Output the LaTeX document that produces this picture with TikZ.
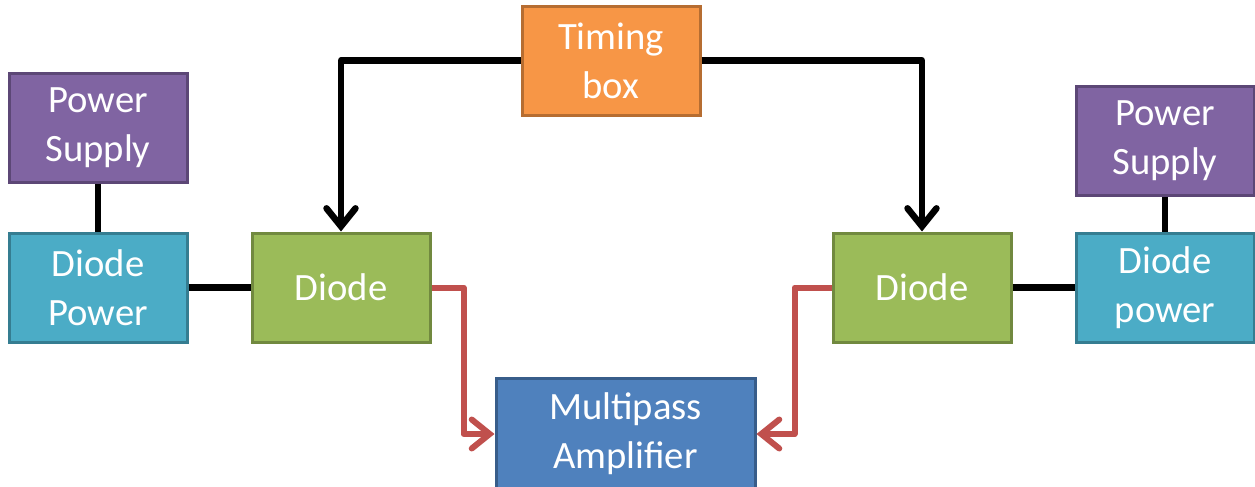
\documentclass[tikz,border=0pt]{standalone}
\usepackage{fontspec}
\setmainfont{Carlito}
\usepackage{tikz}
\usetikzlibrary{arrows.meta,positioning}
\definecolor{plum}{HTML}{8064A2}
\definecolor{plumdk}{HTML}{5C4776}
\definecolor{teal}{HTML}{4BACC6}
\definecolor{tealdk}{HTML}{357D91}
\definecolor{leaf}{HTML}{9BBB59}
\definecolor{leafdk}{HTML}{71893F}
\definecolor{amber}{HTML}{F79646}
\definecolor{amberdk}{HTML}{B66D31}
\definecolor{steel}{HTML}{4F81BD}
\definecolor{steeldk}{HTML}{385D8A}
\definecolor{brick}{HTML}{C0504D}
\tikzset{
  blockbox/.style={
    rectangle, draw=#1dk, fill=#1, line width=0.06cm,
    minimum width=3.56cm, minimum height=2.18cm,
    text=white, font=\fontsize{22}{28}\selectfont, align=center,
    inner sep=2pt
  },
  blockbox/.default=leaf,
  wire/.style={line width=0.13cm, color=black},
  trigarrow/.style={
    wire, line join=round,
    -{Straight Barb[length=0.36cm, width=0.58cm, line cap=round]}
  },
  beamarrow/.style={
    line width=0.12cm, color=brick, line join=round,
    -{Straight Barb[length=0.36cm, width=0.58cm, line cap=round]}
  },
}
\begin{document}
\begin{tikzpicture}
  \useasboundingbox (0,0) rectangle (25.1,-9.72);
  % left chain
  \node[blockbox=teal] (dpL) at (1.96,-5.75) {Diode\\Power};
  \node[blockbox=plum, above=0.96cm of dpL] (psL) {Power\\Supply};
  \node[blockbox=leaf, right=1.24cm of dpL] (diodeL) {Diode};
  % right chain
  \node[blockbox=leaf] (diodeR) at (18.44,-5.75) {Diode};
  \node[blockbox=teal, right=1.24cm of diodeR] (dpR) {Diode\\power};
  \node[blockbox=plum, above=0.70cm of dpR] (psR) {Power\\Supply};
  % trigger and amplifier
  \node[blockbox=amber] (timing) at (12.22,-1.21) {Timing\\box};
  \node[blockbox=steel, minimum width=5.18cm, minimum height=2.24cm] (amp) at (12.51,-8.68) {Multipass\\Amplifier};

  \draw[wire] (psL) -- (dpL);
  \draw[wire] (psR) -- (dpR);
  \draw[wire] (dpL) -- (diodeL);
  \draw[wire] (diodeR) -- (dpR);
  \draw[trigarrow] (timing.west) -| (diodeL.north);
  \draw[trigarrow] (timing.east) -| (diodeR.north);
  \draw[beamarrow] (diodeL.east) -- ++(0.64,0) |- (amp.west);
  \draw[beamarrow] (diodeR.west) -- ++(-0.74,0) |- (amp.east);
\end{tikzpicture}
\end{document}
